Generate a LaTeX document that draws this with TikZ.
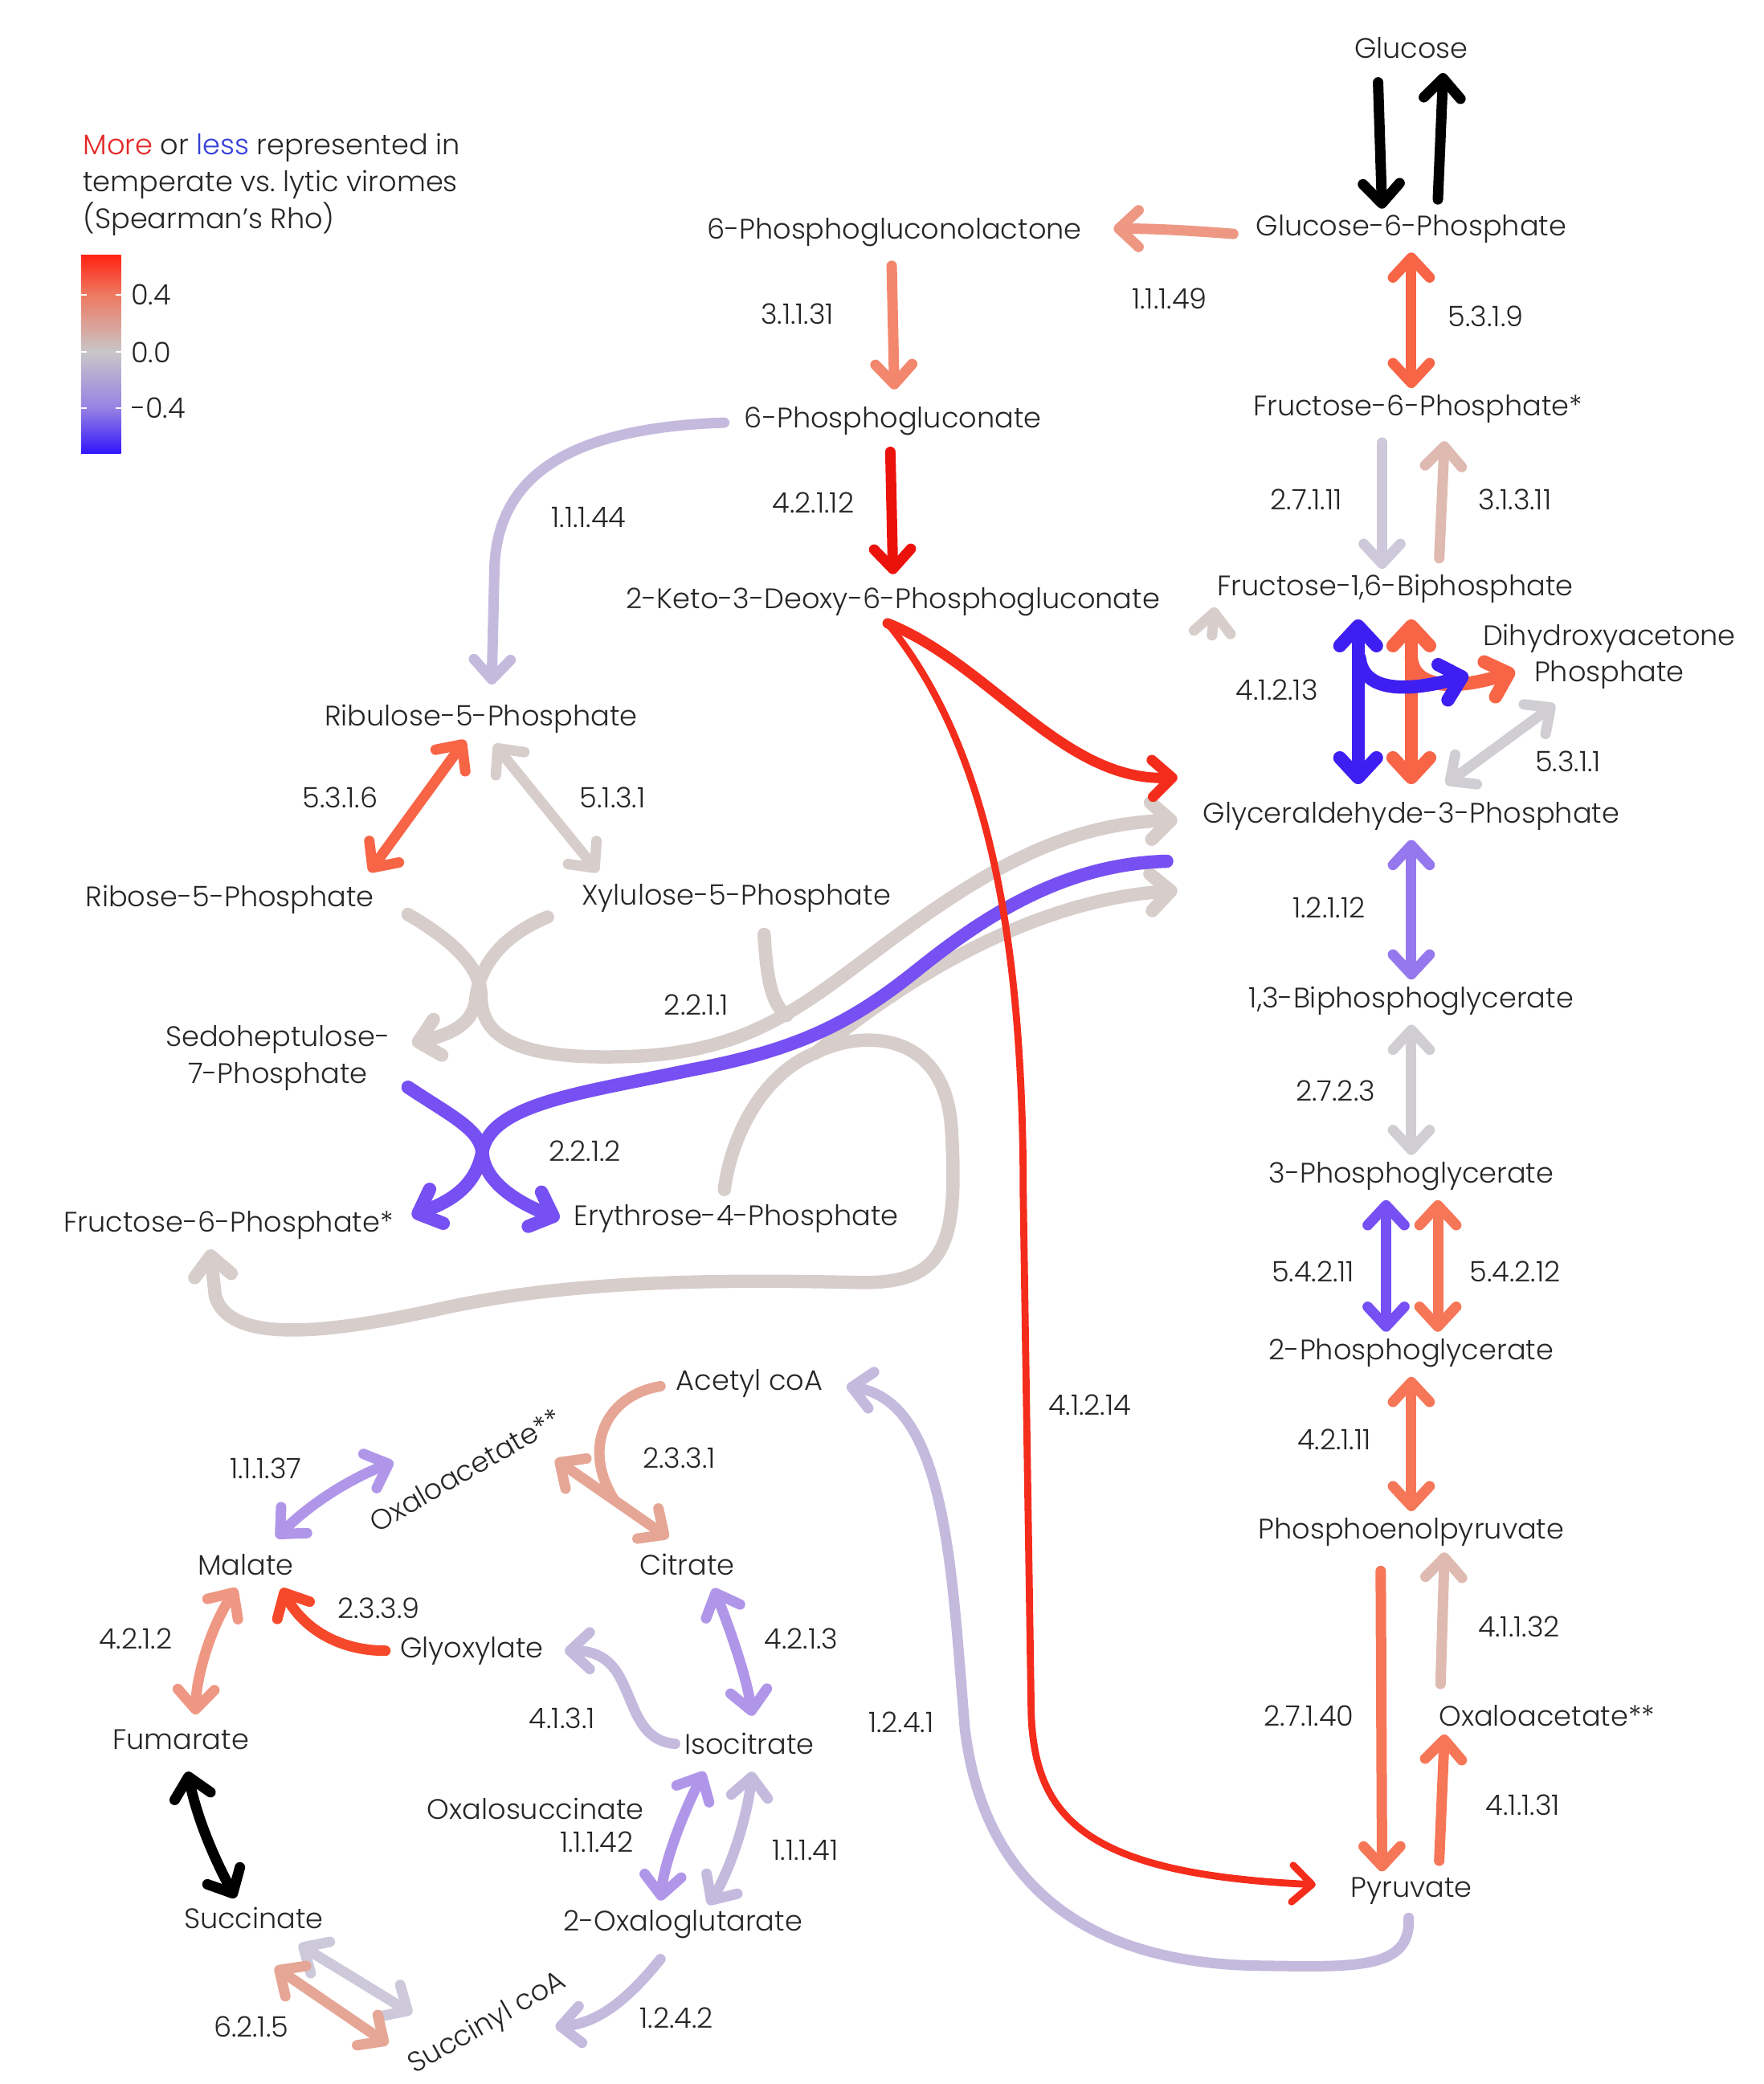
\documentclass[tikz,border=0pt]{standalone}
\usepackage{fontspec}
\setmainfont{Poppins}[UprightFont={* Light}]
\usetikzlibrary{arrows.meta}

\definecolor{cMore}{RGB}{228,38,38}
\definecolor{cLess}{RGB}{52,64,214}
\definecolor{cRedA}{RGB}{236,18,12}
\definecolor{cRedB}{RGB}{244,44,28}
\definecolor{cRedC}{RGB}{246,72,42}
\definecolor{cOrA}{RGB}{247,100,70}
\definecolor{cOrB}{RGB}{246,118,88}
\definecolor{cSal}{RGB}{243,135,110}
\definecolor{cSalB}{RGB}{238,152,132}
\definecolor{cPink}{RGB}{230,166,150}
\definecolor{cPinkGrey}{RGB}{222,186,176}
\definecolor{cGreyBr}{RGB}{215,205,202}
\definecolor{cGrey}{RGB}{208,206,210}
\definecolor{cLavGrey}{RGB}{205,200,218}
\definecolor{cLav}{RGB}{196,186,222}
\definecolor{cLavB}{RGB}{176,150,232}
\definecolor{cPurp}{RGB}{150,120,238}
\definecolor{cViolet}{RGB}{118,80,242}
\definecolor{cBlue}{RGB}{62,30,240}
\definecolor{cBarTop}{RGB}{255,35,20}
\definecolor{cBarHi}{RGB}{238,122,98}
\definecolor{cBarMid}{RGB}{200,198,200}
\definecolor{cBarLo}{RGB}{150,130,228}
\definecolor{cBarBot}{RGB}{50,22,250}

\begin{document}
\begin{tikzpicture}[
  x=0.01655cm, y=-0.01655cm,
  >={Straight Barb[round,length=7pt,width=13pt]},
  met/.style={font=\fontsize{10}{13}\selectfont, text=black!85, inner sep=1pt},
  ec/.style={font=\fontsize{10}{12}\selectfont, text=black!85, inner sep=1pt},
  rx/.style={line width=3.7pt, line cap=round},
  rxthick/.style={line width=4.7pt, line cap=round},
  rxthin/.style={line width=2.5pt, line cap=round}
]
\useasboundingbox (0,0) rectangle (1327,1568);

% legend
\node[met, anchor=west, align=left] (legend) at (60,139) {\textcolor{cMore}{More} or \textcolor{cLess}{less} represented in\\temperate vs.\ lytic viromes\\(Spearman's Rho)};
\shade[top color=cBarTop, bottom color=cBarHi] (61,192) rectangle (91,222);
\shade[top color=cBarHi, bottom color=cBarMid] (61,222) rectangle (91,265);
\shade[top color=cBarMid, bottom color=cBarLo] (61,265) rectangle (91,307);
\shade[top color=cBarLo, bottom color=cBarBot] (61,307) rectangle (91,341);
\foreach \ty in {222,265,307} {
  \draw[white, line width=0.6pt] (61,\ty) -- (65,\ty) (87,\ty) -- (91,\ty);
}
\node[ec, anchor=west] (tkhi) at (96,222) {0.4};
\node[ec, anchor=west] (tkmid) at (96,265) {0.0};
\node[ec, anchor=west] (tklo) at (96,307) {-0.4};

% metabolites
\node[met] (glc) at (1062,36) {Glucose};
\node[met] (gsixp) at (1062,172) {Glucose-6-Phosphate};
\node[met] (pgl) at (673,175) {6-Phosphogluconolactone};
\node[met] (fsixp) at (1067,308) {Fructose-6-Phosphate*};
\node[met] (pgn) at (672,317) {6-Phosphogluconate};
\node[met] (fbp) at (1050,443) {Fructose-1,6-Biphosphate};
\node[met] (kdpg) at (672,453) {2-Keto-3-Deoxy-6-Phosphogluconate};
\node[met, align=center] (dhap) at (1211,494) {Dihydroxyacetone\\Phosphate};
\node[met] (gap) at (1062,614) {Glyceraldehyde-3-Phosphate};
\node[met] (rufivep) at (362,541) {Ribulose-5-Phosphate};
\node[met] (rfivep) at (173,677) {Ribose-5-Phosphate};
\node[met] (xfivep) at (554,676) {Xylulose-5-Phosphate};
\node[met] (bpg) at (1062,753) {1,3-Biphosphoglycerate};
\node[met, align=center] (sedo) at (209,796) {Sedoheptulose-\\7-Phosphate};
\node[met] (thpg) at (1062,885) {3-Phosphoglycerate};
\node[met] (efourp) at (554,917) {Erythrose-4-Phosphate};
\node[met] (fsixpb) at (172,922) {Fructose-6-Phosphate*};
\node[met] (twpg) at (1062,1018) {2-Phosphoglycerate};
\node[met] (accoa) at (564,1041) {Acetyl coA};
\node[met] (pep) at (1062,1153) {Phosphoenolpyruvate};
\node[met, rotate=30] (oaa) at (350,1106) {Oxaloacetate**};
\node[met] (mal) at (185,1177) {Malate};
\node[met] (cit) at (517,1177) {Citrate};
\node[met] (glyox) at (355,1242) {Glyoxylate};
\node[met] (oaab) at (1164,1291) {Oxaloacetate**};
\node[met] (fum) at (136,1309) {Fumarate};
\node[met] (icit) at (564,1312) {Isocitrate};
\node[met] (oxsuc) at (403,1361) {Oxalosuccinate};
\node[met] (pyr) at (1062,1423) {Pyruvate};
\node[met] (succ) at (191,1443) {Succinate};
\node[met] (ogl) at (514,1448) {2-Oxaloglutarate};
\node[met, rotate=30] (succoa) at (367,1523) {Succinyl coA};

% enzyme numbers
\foreach \nm/\px/\py/\lbl in {
  ec11149/880/225/1.1.1.49, ec31131/600/236/3.1.1.31, ec5319/1118/238/5.3.1.9,
  ec27111/983/376/2.7.1.11, ec31311/1140/376/3.1.3.11, ec11144/443/389/1.1.1.44,
  ec42112/612/378/4.2.1.12, ec41213/961/519/4.1.2.13, ec5311/1180/573/5.3.1.1,
  ec5316/256/600/5.3.1.6, ec5131/461/600/5.1.3.1, ec12112/1000/683/1.2.1.12,
  ec2211/524/756/2.2.1.1, ec2723/1005/821/2.7.2.3, ec2212/440/866/2.2.1.2,
  ec54211/988/957/5.4.2.11, ec54212/1140/957/5.4.2.12, ec41214/820/1057/4.1.2.14,
  ec42111/1004/1083/4.2.1.11, ec2331/511/1097/2.3.3.1, ec11137/200/1105/1.1.1.37,
  ec2339/285/1210/2.3.3.9, ec41132/1143/1224/4.1.1.32, ec4212/102/1233/4.2.1.2,
  ec4213/603/1233/4.2.1.3, ec4131/423/1293/4.1.3.1, ec1241/678/1296/1.2.4.1,
  ec27140/985/1291/2.7.1.40, ec41131/1146/1358/4.1.1.31, ec11142/449/1386/1.1.1.42,
  ec11141/606/1392/1.1.1.41, ec1242/509/1518/1.2.4.2, ec6215/189/1525/6.2.1.5}
  \node[ec] (\nm) at (\px,\py) {\lbl};

% transketolase
\coordinate (jtk) at (614,792);
\coordinate (jxu) at (592,764);
\draw[rxthick, cGreyBr, ->] ([shift={(134,11)}]rfivep.center) .. controls (345,710) and (362,730) .. (362,750) .. controls (362,785) and (400,797) .. (470,795) .. controls (560,793) and (600,760) .. (660,715) .. controls (740,655) and (800,620) .. ([shift={(-176,3)}]gap.center);
\draw[rxthick, cGreyBr, ->] ([shift={(-142,14)}]xfivep.center) .. controls (375,705) and (360,730) .. (358,752) .. controls (356,770) and (340,778) .. ([shift={(101,-11)}]sedo.center);
\draw[rxthick, cGreyBr] ([shift={(21,27)}]xfivep.center) .. controls (577,735) and (580,755) .. (jxu);
\draw[rxthick, cGreyBr] ([shift={(-9,-22)}]efourp.center) .. controls (552,845) and (580,805) .. (jtk);
\draw[rxthick, cGreyBr, ->] (jtk) .. controls (670,745) and (770,678) .. ([shift={(-176,56)}]gap.center);
\draw[rxthick, cGreyBr, ->] (jtk) .. controls (650,774) and (712,776) .. (716,850) .. controls (721,935) and (712,965) .. (650,965) .. controls (520,962) and (420,965) .. (330,985) .. controls (240,1005) and (172,1010) .. (162,975) -- ([shift={(-14,18)}]fsixpb.center);

% transaldolase
\draw[rxthick, cViolet, ->] ([shift={(98,22)}]sedo.center) .. controls (340,840) and (362,850) .. (363,868) .. controls (365,890) and (390,905) .. ([shift={(-133,0)}]efourp.center);
\draw[rxthick, cViolet, ->] ([shift={(-184,34)}]gap.center) .. controls (800,650) and (740,690) .. (690,730) .. controls (640,770) and (600,790) .. (520,805) .. controls (440,822) and (370,830) .. (363,866) .. controls (358,895) and (335,905) .. ([shift={(138,-7)}]fsixpb.center);

% pentose phosphate, oxidative and isomerases
\draw[rx, cSalB, ->] ([shift={(-134,4)}]gsixp.center) .. controls (890,173) and (865,172) .. ([shift={(165,-3)}]pgl.center);
\draw[rx, cSal, ->] ([shift={(-2,25)}]pgl.center) -- ([shift={(1,-24)}]pgn.center);
\draw[rx, cRedA, ->] ([shift={(-2,23)}]pgn.center) -- ([shift={(0,-21)}]kdpg.center);
\draw[rx, cLav, ->] ([shift={(-127,1)}]pgn.center) .. controls (425,322) and (373,360) .. (372,430) -- ([shift={(8,-26)}]rufivep.center);
\draw[rx, cOrA, <->] ([shift={(-12,16)}]rufivep.center) -- ([shift={(105,-21)}]rfivep.center);
\draw[rx, cGreyBr, <->] ([shift={(10,19)}]rufivep.center) -- ([shift={(-104,-20)}]xfivep.center);

% Entner-Doudoroff
\draw[rx, cRedB, ->] ([shift={(-4,16)}]kdpg.center) .. controls (745,500) and (800,588) .. ([shift={(-176,-29)}]gap.center);
\draw[rxthin, cRedB, ->] ([shift={(-4,16)}]kdpg.center) .. controls (742,560) and (770,700) .. (770,900) -- (776,1290) .. controls (779,1370) and (820,1410) .. ([shift={(-72,-5)}]pyr.center);

% glycolysis
\draw[rx, black, ->] ([shift={(-25,26)}]glc.center) -- ([shift={(-22,-15)}]gsixp.center);
\draw[rx, black, ->] ([shift={(20,-22)}]gsixp.center) -- ([shift={(24,19)}]glc.center);
\draw[rx, cOrA, <->] ([shift={(0,18)}]gsixp.center) -- ([shift={(-5,-16)}]fsixp.center);
\draw[rx, cLavGrey, ->] ([shift={(-27,25)}]fsixp.center) -- ([shift={(-10,-15)}]fbp.center);
\draw[rx, cPinkGrey, ->] ([shift={(33,-23)}]fbp.center) -- ([shift={(20,24)}]fsixp.center);
\draw[rx, cGreyBr, ->] ([shift={(-138,35)}]fbp.center) -- ([shift={(-136,14)}]fbp.center);
\draw[rxthick, cOrA, <->] ([shift={(12,23)}]fbp.center) -- ([shift={(0,-24)}]gap.center);
\draw[rxthick, cOrA, ->] ([shift={(12,52)}]fbp.center) .. controls (1064,520) and (1100,518) .. ([shift={(-71,11)}]dhap.center);
\draw[rxthick, cBlue, <->] ([shift={(-28,23)}]fbp.center) -- ([shift={(-40,-24)}]gap.center);
\draw[rxthick, cBlue, ->] ([shift={(-27,52)}]fbp.center) .. controls (1026,522) and (1062,520) .. ([shift={(-106,14)}]dhap.center);
\draw[rx, cGrey, <->] ([shift={(-41,36)}]dhap.center) -- ([shift={(26,-24)}]gap.center);
\draw[rx, cPurp, <->] ([shift={(0,18)}]gap.center) -- ([shift={(0,-16)}]bpg.center);
\draw[rx, cGrey, <->] ([shift={(0,18)}]bpg.center) -- ([shift={(0,-16)}]thpg.center);
\draw[rx, cViolet, <->] ([shift={(-19,18)}]thpg.center) -- ([shift={(-19,-16)}]twpg.center);
\draw[rx, cOrB, <->] ([shift={(20,18)}]thpg.center) -- ([shift={(20,-16)}]twpg.center);
\draw[rx, cOrB, <->] ([shift={(0,18)}]twpg.center) -- ([shift={(0,-16)}]pep.center);
\draw[rx, cOrB, ->] ([shift={(-23,29)}]pep.center) -- ([shift={(-22,-15)}]pyr.center);
\draw[rx, cPinkGrey, ->] ([shift={(-80,-24)}]oaab.center) -- ([shift={(25,15)}]pep.center);
\draw[rx, cOrB, ->] ([shift={(21,-23)}]pyr.center) -- ([shift={(-77,14)}]oaab.center);
\draw[rx, cLav, ->] ([shift={(-2,20)}]pyr.center) .. controls (1062,1482) and (1020,1480) .. (950,1479) .. controls (820,1478) and (740,1420) .. (726,1300) .. controls (716,1180) and (712,1055) .. ([shift={(73,2)}]accoa.center);

% TCA and glyoxylate cycle
\draw[rx, cPink] ([shift={(-67,2)}]accoa.center) .. controls (455,1050) and (438,1090) .. (462,1128);
\draw[rx, cPink, <->] ([shift={(68,-8)}]oaa.center) -- ([shift={(-14,-20)}]cit.center);
\draw[rx, cLavB, <->] ([shift={(23,-20)}]mal.center) .. controls (235,1130) and (265,1112) .. ([shift={(-54,-6)}]oaa.center);
\draw[rx, cRedC, ->] ([shift={(-65,0)}]glyox.center) .. controls (255,1242) and (228,1225) .. ([shift={(27,18)}]mal.center);
\draw[rx, cSalB, <->] ([shift={(-7,18)}]mal.center) .. controls (160,1222) and (148,1258) .. ([shift={(11,-19)}]fum.center);
\draw[rx, black, <->] ([shift={(5,24)}]fum.center) .. controls (150,1375) and (165,1405) .. ([shift={(-14,-15)}]succ.center);
\draw[rx, cLavGrey, <->] ([shift={(34,20)}]succ.center) -- ([shift={(-57,-8)}]succoa.center);
\draw[rx, cPink, <->] ([shift={(16,37)}]succ.center) -- ([shift={(-75,15)}]succoa.center);
\draw[rx, cLav, ->] ([shift={(-17,26)}]ogl.center) .. controls (472,1505) and (450,1522) .. ([shift={(51,2)}]succoa.center);
\draw[rx, cLavB, <->] ([shift={(20,18)}]cit.center) .. controls (548,1222) and (562,1262) .. ([shift={(2,-21)}]icit.center);
\draw[rx, cLav, ->] ([shift={(-56,0)}]icit.center) .. controls (482,1310) and (478,1285) .. (468,1265) .. controls (460,1248) and (448,1242) .. ([shift={(70,0)}]glyox.center);
\draw[rx, cLavB, <->] ([shift={(-34,21)}]icit.center) .. controls (515,1362) and (500,1400) .. ([shift={(-17,-18)}]ogl.center);
\draw[rx, cLav, <->] ([shift={(2,21)}]icit.center) .. controls (562,1370) and (548,1410) .. ([shift={(19,-15)}]ogl.center);
\end{tikzpicture}
\end{document}
